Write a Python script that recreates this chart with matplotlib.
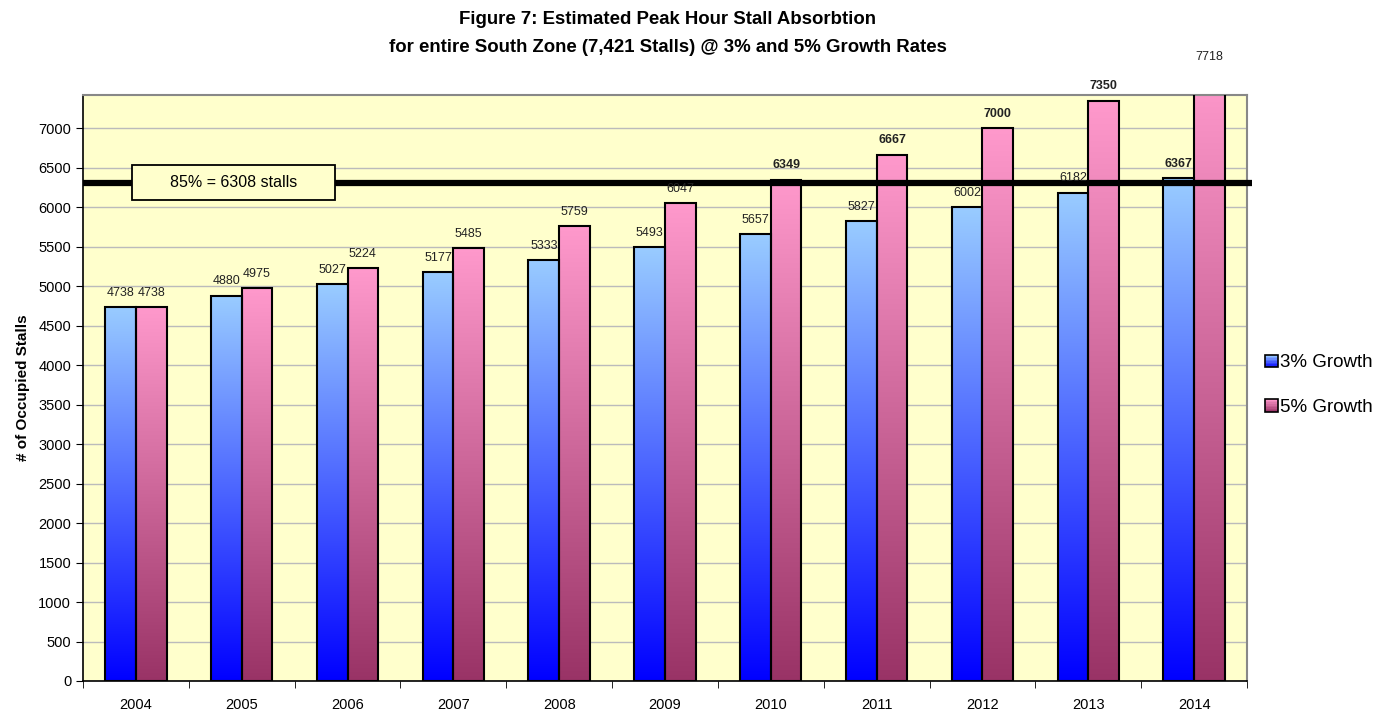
import matplotlib.pyplot as plt
import numpy as np
from matplotlib.colors import LinearSegmentedColormap
from matplotlib.patches import Rectangle
from matplotlib.legend_handler import HandlerBase

plt.rcParams['font.family'] = ['Liberation Sans', 'DejaVu Sans']

anos = ['2004', '2005', '2006', '2007', '2008', '2009', '2010', '2011', '2012', '2013', '2014']
cresc_3 = [4738, 4880, 5027, 5177, 5333, 5493, 5657, 5827, 6002, 6182, 6367]
cresc_5 = [4738, 4975, 5224, 5485, 5759, 6047, 6349, 6667, 7000, 7350, 7718]
series_nomes = ['3% Growth', '5% Growth']
total_vagas = 7421
limite_85 = 6308

# gradientes: base escura -> topo claro
cmap_azul = LinearSegmentedColormap.from_list('azul', ['#0000FF', '#99CCFF'])
cmap_rosa = LinearSegmentedColormap.from_list('rosa', ['#993366', '#FF99CC'])
grad = np.linspace(0, 1, 256).reshape(-1, 1)

fig = plt.figure(figsize=(13.88, 7.11), dpi=100)
ax = fig.add_axes([0.0598, 0.0422, 0.8386, 0.8242])
ax.set_facecolor('#FFFFCC')

x = np.arange(len(anos))
larg = 0.29


def barra_gradiente(ax, x0, h, cmap):
    ax.imshow(grad, extent=[x0, x0 + larg, 0, h], origin='lower', cmap=cmap,
              aspect='auto', zorder=2, interpolation='bilinear')
    ax.add_patch(Rectangle((x0, 0), larg, h, facecolor='none', edgecolor='black',
                           linewidth=1.5, zorder=3))


for i in range(len(anos)):
    barra_gradiente(ax, x[i] - larg, cresc_3[i], cmap_azul)
    barra_gradiente(ax, x[i], cresc_5[i], cmap_rosa)
    for v, xc in [(cresc_3[i], x[i] - larg / 2), (cresc_5[i], x[i] + larg / 2)]:
        negrito = 'bold' if (limite_85 < v < 7718) else 'normal'
        ax.annotate(str(v), (xc, v), xytext=(0, 6), textcoords='offset points',
                    ha='center', va='bottom', fontsize=9, fontweight=negrito,
                    color='#222222', annotation_clip=False, zorder=5)

# linha de 85%
ax.plot([-0.5, 10.55], [limite_85, limite_85], color='black', linewidth=4.5,
        zorder=4, clip_on=False, solid_capstyle='butt')
ax.add_patch(Rectangle((-0.037, limite_85 - 221), 1.92, 442, facecolor='#FFFFCC',
                       edgecolor='black', linewidth=1.3, zorder=5))
ax.text(-0.037 + 0.96, limite_85, '85% = 6308 stalls', ha='center', va='center',
        fontsize=11.5, zorder=6)

ax.set_xlim(-0.5, len(anos) - 0.5)
ax.set_ylim(0, total_vagas)
ax.set_yticks(np.arange(0, 7001, 500))
ax.set_yticklabels([str(t) for t in range(0, 7001, 500)], fontsize=10.5)
ax.yaxis.grid(True, color='#BBBBBB', linewidth=1)
ax.set_axisbelow(True)
ax.set_xticks(x)
ax.set_xticklabels(anos, fontsize=10.5)
ax.set_xticks(np.arange(-0.5, len(anos)), minor=True)
ax.tick_params(axis='x', which='major', length=0, pad=12)
ax.tick_params(axis='x', which='minor', length=5, color='black')
ax.tick_params(axis='y', length=5)
for s in ['top', 'right']:
    ax.spines[s].set_color('#888888')
    ax.spines[s].set_linewidth(1.5)
for s in ['left', 'bottom']:
    ax.spines[s].set_linewidth(1.2)

ax.set_ylabel('# of Occupied Stalls', fontsize=11, fontweight='bold', labelpad=6)
fig.text(0.481, 1 - 19 / 711, 'Figure 7: Estimated Peak Hour Stall Absorbtion',
         ha='center', va='center', fontsize=13.4, fontweight='bold')
fig.text(0.481, 1 - 47 / 711, 'for entire South Zone (7,421 Stalls) @ 3% and 5% Growth Rates',
         ha='center', va='center', fontsize=13.4, fontweight='bold')


class HandlerGradiente(HandlerBase):
    def create_artists(self, legend, orig_handle, xd, yd, w, h, fontsize, trans):
        cmap = orig_handle
        lado = h * 0.95
        x0 = xd + w - lado
        arts = []
        n = 8
        for k in range(n):
            arts.append(Rectangle((x0, yd + k * lado / n), lado, lado / n,
                                  facecolor=cmap((k + 0.5) / n), edgecolor='none',
                                  transform=trans))
        arts.append(Rectangle((x0, yd), lado, lado, facecolor='none',
                              edgecolor='black', linewidth=1.2, transform=trans))
        return arts


ax.legend([cmap_azul, cmap_rosa], series_nomes,
          handler_map={LinearSegmentedColormap: HandlerGradiente()},
          loc='center left', bbox_to_anchor=(1.0, 0.505), frameon=False,
          fontsize=13.5, handlelength=0.75, handletextpad=0.1, labelspacing=1.45)

fig.savefig('out.png', dpi=100)
